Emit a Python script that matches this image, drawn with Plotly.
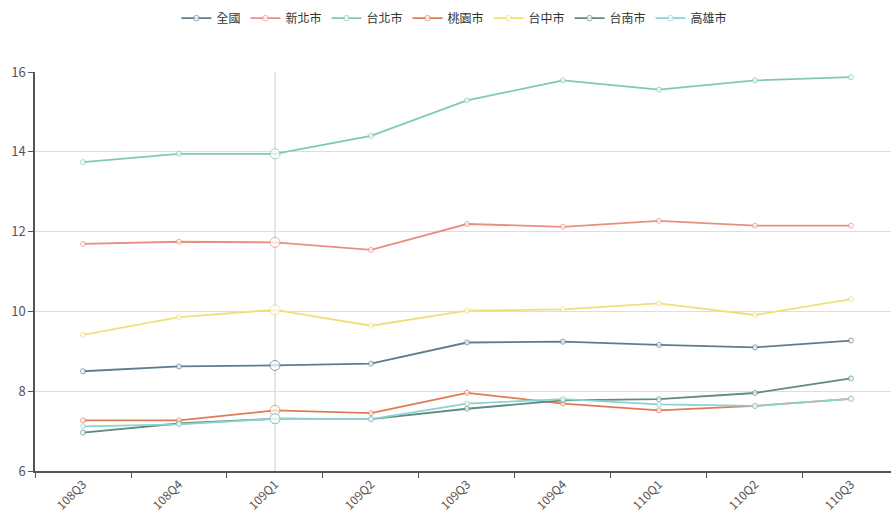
import plotly.graph_objects as go

categories = ["108Q3", "108Q4", "109Q1", "109Q2", "109Q3", "109Q4", "110Q1", "110Q2", "110Q3"]

national = [8.50, 8.62, 8.645, 8.69, 9.22, 9.24, 9.16, 9.10, 9.27]
new_taipei = [11.69, 11.745, 11.73, 11.54, 12.19, 12.12, 12.27, 12.15, 12.15]
taipei = [13.74, 13.95, 13.95, 14.40, 15.29, 15.79, 15.56, 15.79, 15.87]
taoyuan = [7.27, 7.27, 7.52, 7.45, 7.96, 7.69, 7.52, 7.63, 7.81]
taichung = [9.41, 9.855, 10.04, 9.64, 10.02, 10.05, 10.20, 9.91, 10.31]
tainan = [6.96, 7.19, 7.31, 7.30, 7.56, 7.77, 7.80, 7.955, 8.32]
kaohsiung = [7.12, 7.17, 7.31, 7.30, 7.69, 7.80, 7.67, 7.63, 7.81]

series_names = ["全國", "新北市", "台北市", "桃園市", "台中市", "台南市", "高雄市"]
series_values = [national, new_taipei, taipei, taoyuan, taichung, tainan, kaohsiung]
colors = ["#5e7d8c", "#e98f80", "#80c9b0", "#e07a55", "#f0df78", "#5f8c7c", "#8ad3cf"]

hover_cat = "109Q1"
hover_idx = categories.index(hover_cat)
sizes = [10 if c == hover_cat else 5 for c in categories]

FONT = "Noto Sans CJK TC, Noto Sans, sans-serif"

fig = go.Figure()
for name, vals, col in zip(series_names, series_values, colors):
    fig.add_trace(go.Scatter(
        x=categories, y=vals, name=name, mode="lines+markers",
        line=dict(color=col, width=1.8),
        marker=dict(symbol="circle", size=sizes, color="white",
                    line=dict(color=col, width=1)),
    ))

fig.add_shape(type="line", xref="x", yref="y",
              x0=hover_idx, x1=hover_idx, y0=6, y1=16,
              line=dict(color="#cccccc", width=1), layer="below")

fig.update_layout(
    width=891, height=513,
    margin=dict(l=35, r=0, t=72, b=42),
    paper_bgcolor="white", plot_bgcolor="white",
    font=dict(family=FONT, size=12, color="#444"),
    showlegend=True,
    legend=dict(orientation="h", x=0.49, xanchor="center", y=1.135, yanchor="middle",
                font=dict(size=12, color="#333"), itemwidth=30,
                bgcolor="rgba(0,0,0,0)"),
    xaxis=dict(
        type="category", range=[-0.5, 8.417],
        showline=True, linecolor="#555", linewidth=1.5,
        ticks="outside", tickson="boundaries", ticklen=5, tickcolor="#555",
        tickangle=-45, showgrid=False, zeroline=False, automargin=False,
        tickfont=dict(size=12, color="#555"),
    ),
    yaxis=dict(
        range=[6, 16], dtick=2, tick0=6,
        showline=True, linecolor="#555", linewidth=1.5,
        ticks="outside", ticklen=5, tickcolor="#555",
        showgrid=True, gridcolor="#dddddd", gridwidth=1,
        zeroline=False, automargin=False,
        tickfont=dict(size=13, color="#555"),
    ),
)

fig.write_html("out.html")
